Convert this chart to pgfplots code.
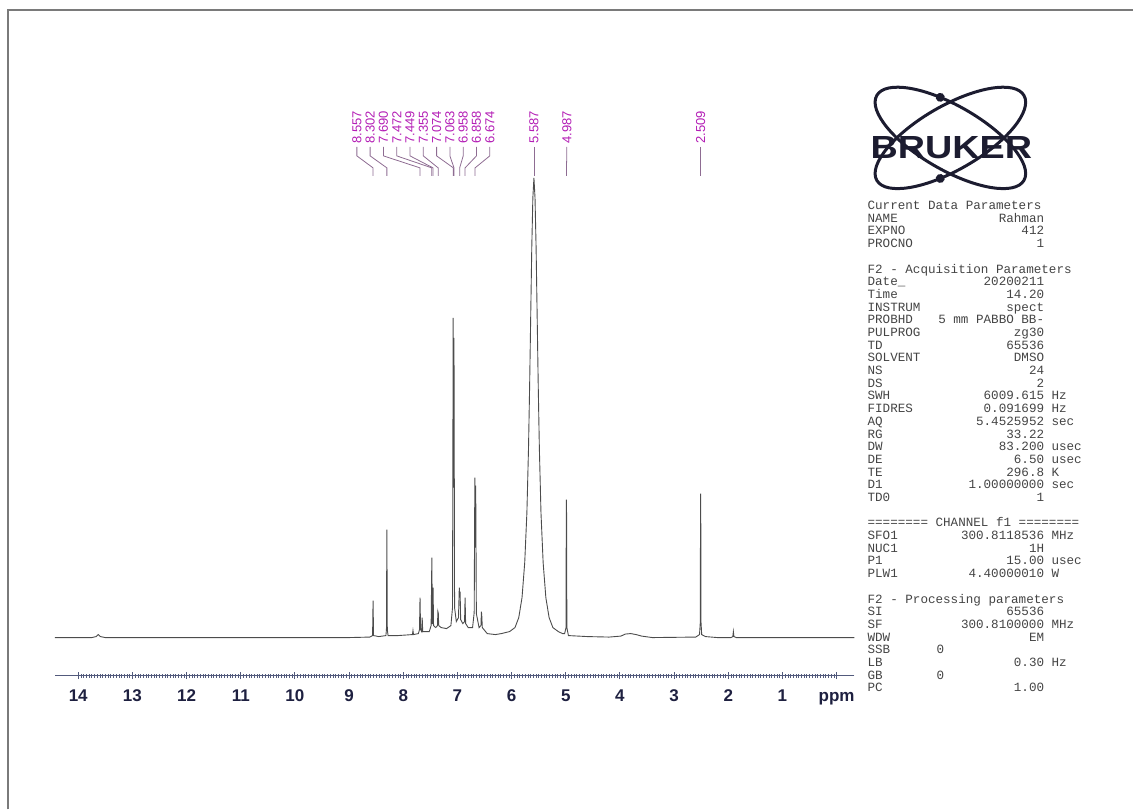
\documentclass[border=0pt]{standalone}
\usepackage{fontspec}
\setmainfont{Liberation Sans}
\newfontfamily\monofont{Liberation Mono}
\usepackage{pgfplots}
\pgfplotsset{compat=1.18}
\usetikzlibrary{calc}

\definecolor{specline}{HTML}{4C4C4C}
\definecolor{peaklab}{HTML}{B31DB5}
\definecolor{leader}{HTML}{8E6C92}
\definecolor{axiscol}{HTML}{525A7C}
\definecolor{tickcol}{HTML}{1E2040}
\definecolor{paramcol}{HTML}{444444}
\definecolor{logocol}{HTML}{1C1C30}
\definecolor{framecol}{HTML}{7A7A7A}

% peak label: label position (ppm), peak position (ppm), text
\newcommand{\plab}[3]{%
  \node[rotate=90, anchor=west, inner sep=0pt, text=peaklab,
        font=\fontsize{13}{13}\selectfont] at (axis cs:#1,494) {#3};
  \draw[leader, line width=0.8pt] (axis cs:#1,491) -- (axis cs:#1,482)
        -- (axis cs:#2,470) -- (axis cs:#2,462);
}

% parameter row: line index, name, value, unit
\newcommand{\prow}[4]{%
  \node[prm, anchor=west] at (868,{603-12.7*#1}) {#2};
  \node[prm, anchor=east] at (1045,{603-12.7*#1}) {#3};
  \node[prm, anchor=west] at (1052,{603-12.7*#1}) {#4};
}
\newcommand{\phead}[2]{%
  \node[prm, anchor=west] at (868,{603-12.7*#1}) {#2};
}

\begin{document}
\begin{tikzpicture}[x=1pt, y=1pt,
  prm/.style={inner sep=0pt, text=paramcol, text height=7.5pt, text depth=2pt,
              font=\monofont\fontsize{12.6}{12.6}\selectfont}]

\begin{axis}[
  scale only axis, width=800pt, height=576pt,
  xmin=-0.33, xmax=14.43, ymin=-38, ymax=538,
  x dir=reverse,
  hide y axis,
  axis x line*=bottom,
  x axis line style={axiscol, line width=1.6pt},
  xtick={0,1,...,14},
  xticklabels={ppm,1,2,3,4,5,6,7,8,9,10,11,12,13,14},
  minor x tick num=19,
  major tick style={axiscol, line width=0.9pt},
  minor tick style={axiscol, line width=0.6pt},
  major tick length=7pt, minor tick length=4pt,
  tick align=center,
  x tick label style={font=\bfseries\fontsize{17}{17}\selectfont,
                      text=tickcol, anchor=base, yshift=-22pt},
  clip=false,
]
\addplot[specline, line width=0.9pt] coordinates {
 (14.43,0) (13.75,0) (13.67,1) (13.63,3) (13.59,1) (13.5,0) (12,0) (10,0)
 (9.0,0) (8.62,0.5) (8.566,2) (8.557,37) (8.548,2) (8.45,1)
 (8.32,2) (8.310,8) (8.302,108) (8.294,8) (8.28,2) (8.10,2)
 (7.83,3) (7.82,7) (7.81,3) (7.72,4) (7.70,8) (7.690,40) (7.680,8)
 (7.66,6) (7.650,20) (7.640,6) (7.52,6) (7.485,12) (7.472,80) (7.462,14)
 (7.455,14) (7.449,50) (7.440,12) (7.40,10) (7.368,12) (7.360,26)
 (7.352,24) (7.345,12) (7.30,10) (7.20,9) (7.12,12) (7.090,30)
 (7.078,320) (7.070,150) (7.063,300) (7.052,30) (7.02,16) (6.98,20)
 (6.965,50) (6.958,40) (6.950,46) (6.94,18) (6.90,14) (6.868,16)
 (6.858,40) (6.848,14) (6.80,10) (6.72,10) (6.690,25) (6.678,160)
 (6.670,90) (6.662,152) (6.650,24) (6.60,10) (6.565,12) (6.557,26)
 (6.550,22) (6.540,10) (6.45,4) (6.30,3)
 (6.187,4) (6.037,6) (5.937,10) (5.867,20) (5.807,40) (5.757,75)
 (5.717,125) (5.687,190) (5.667,250) (5.647,320) (5.627,390) (5.607,440)
 (5.587,460) (5.567,440) (5.547,390) (5.527,320) (5.507,250) (5.487,190)
 (5.457,125) (5.417,75) (5.367,40) (5.307,20) (5.237,10) (5.137,6)
 (5.06,4) (5.02,4) (4.995,10) (4.990,120) (4.987,138) (4.984,120)
 (4.979,10) (4.95,2) (4.6,1) (4.2,0.5) (3.98,1.5) (3.90,3.5) (3.80,4)
 (3.70,3) (3.60,1.5) (3.40,0) (2.60,0.5) (2.53,3) (2.516,15) (2.512,110)
 (2.509,144) (2.506,110) (2.502,15) (2.49,3) (2.42,1) (2.2,0) (1.95,0)
 (1.915,1) (1.905,6) (1.895,1) (1.85,0) (-0.33,0)
};
% peak picking labels
\plab{8.856}{8.557}{8.557}
\plab{8.611}{8.302}{8.302}
\plab{8.365}{7.690}{7.690}
\plab{8.120}{7.472}{7.472}
\plab{7.875}{7.449}{7.449}
\plab{7.629}{7.355}{7.355}
\plab{7.384}{7.074}{7.074}
\plab{7.138}{7.063}{7.063}
\plab{6.893}{6.958}{6.958}
\plab{6.648}{6.858}{6.858}
\plab{6.402}{6.674}{6.674}
\plab{5.587}{5.587}{5.587}
\plab{4.980}{4.987}{4.987}
\plab{2.509}{2.509}{2.509}
\coordinate (corner) at (axis cs:14.43,-38);
\end{axis}

% page furniture, placed relative to the lower left corner of the plot area
\begin{scope}[shift={($(corner)+(-55,-134)$)}]
\draw[framecol, line width=1.5pt] (8,0) -- (8,800) -- (1134,800);

% Bruker logo
\begin{scope}[shift={(951,672)}]
  \begin{scope}[rotate=-30]
    \draw[logocol, line width=3pt] (0,0) ellipse (85 and 32);
    \fill[logocol] ({85*cos(110)},{32*sin(110)}) circle (4.5);
  \end{scope}
  \begin{scope}[rotate=30]
    \draw[logocol, line width=3pt] (0,0) ellipse (85 and 32);
    \fill[logocol] ({85*cos(110)},{-32*sin(110)}) circle (4.5);
  \end{scope}
\end{scope}
\node[font=\bfseries\fontsize{32}{32}\selectfont, text=logocol, xscale=1.18,
      inner sep=0pt] at (952,662) {BRUKER};

% acquisition and processing parameters
\phead{0}{Current Data Parameters}
\prow{1}{NAME}{Rahman}{}
\prow{2}{EXPNO}{412}{}
\prow{3}{PROCNO}{1}{}
\phead{5}{F2 - Acquisition Parameters}
\prow{6}{Date\_}{20200211}{}
\prow{7}{Time}{14.20}{}
\prow{8}{INSTRUM}{spect}{}
\prow{9}{PROBHD}{5 mm PABBO BB-}{}
\prow{10}{PULPROG}{zg30}{}
\prow{11}{TD}{65536}{}
\prow{12}{SOLVENT}{DMSO}{}
\prow{13}{NS}{24}{}
\prow{14}{DS}{2}{}
\prow{15}{SWH}{6009.615}{Hz}
\prow{16}{FIDRES}{0.091699}{Hz}
\prow{17}{AQ}{5.4525952}{sec}
\prow{18}{RG}{33.22}{}
\prow{19}{DW}{83.200}{usec}
\prow{20}{DE}{6.50}{usec}
\prow{21}{TE}{296.8}{K}
\prow{22}{D1}{1.00000000}{sec}
\prow{23}{TD0}{1}{}
\phead{25}{======== CHANNEL f1 ========}
\prow{26}{SFO1}{300.8118536}{MHz}
\prow{27}{NUC1}{1H}{}
\prow{28}{P1}{15.00}{usec}
\prow{29}{PLW1}{4.40000010}{W}
\phead{31}{F2 - Processing parameters}
\prow{32}{SI}{65536}{}
\prow{33}{SF}{300.8100000}{MHz}
\prow{34}{WDW}{EM}{}
\prow{35}{SSB}{}{}
\node[prm, anchor=west] at (937,{603-12.7*35}) {0};
\prow{36}{LB}{0.30}{Hz}
\prow{37}{GB}{}{}
\node[prm, anchor=west] at (937,{603-12.7*37}) {0};
\prow{38}{PC}{1.00}{}

\path[use as bounding box] (0,0) rectangle (1134,810);
\end{scope}
\end{tikzpicture}
\end{document}
